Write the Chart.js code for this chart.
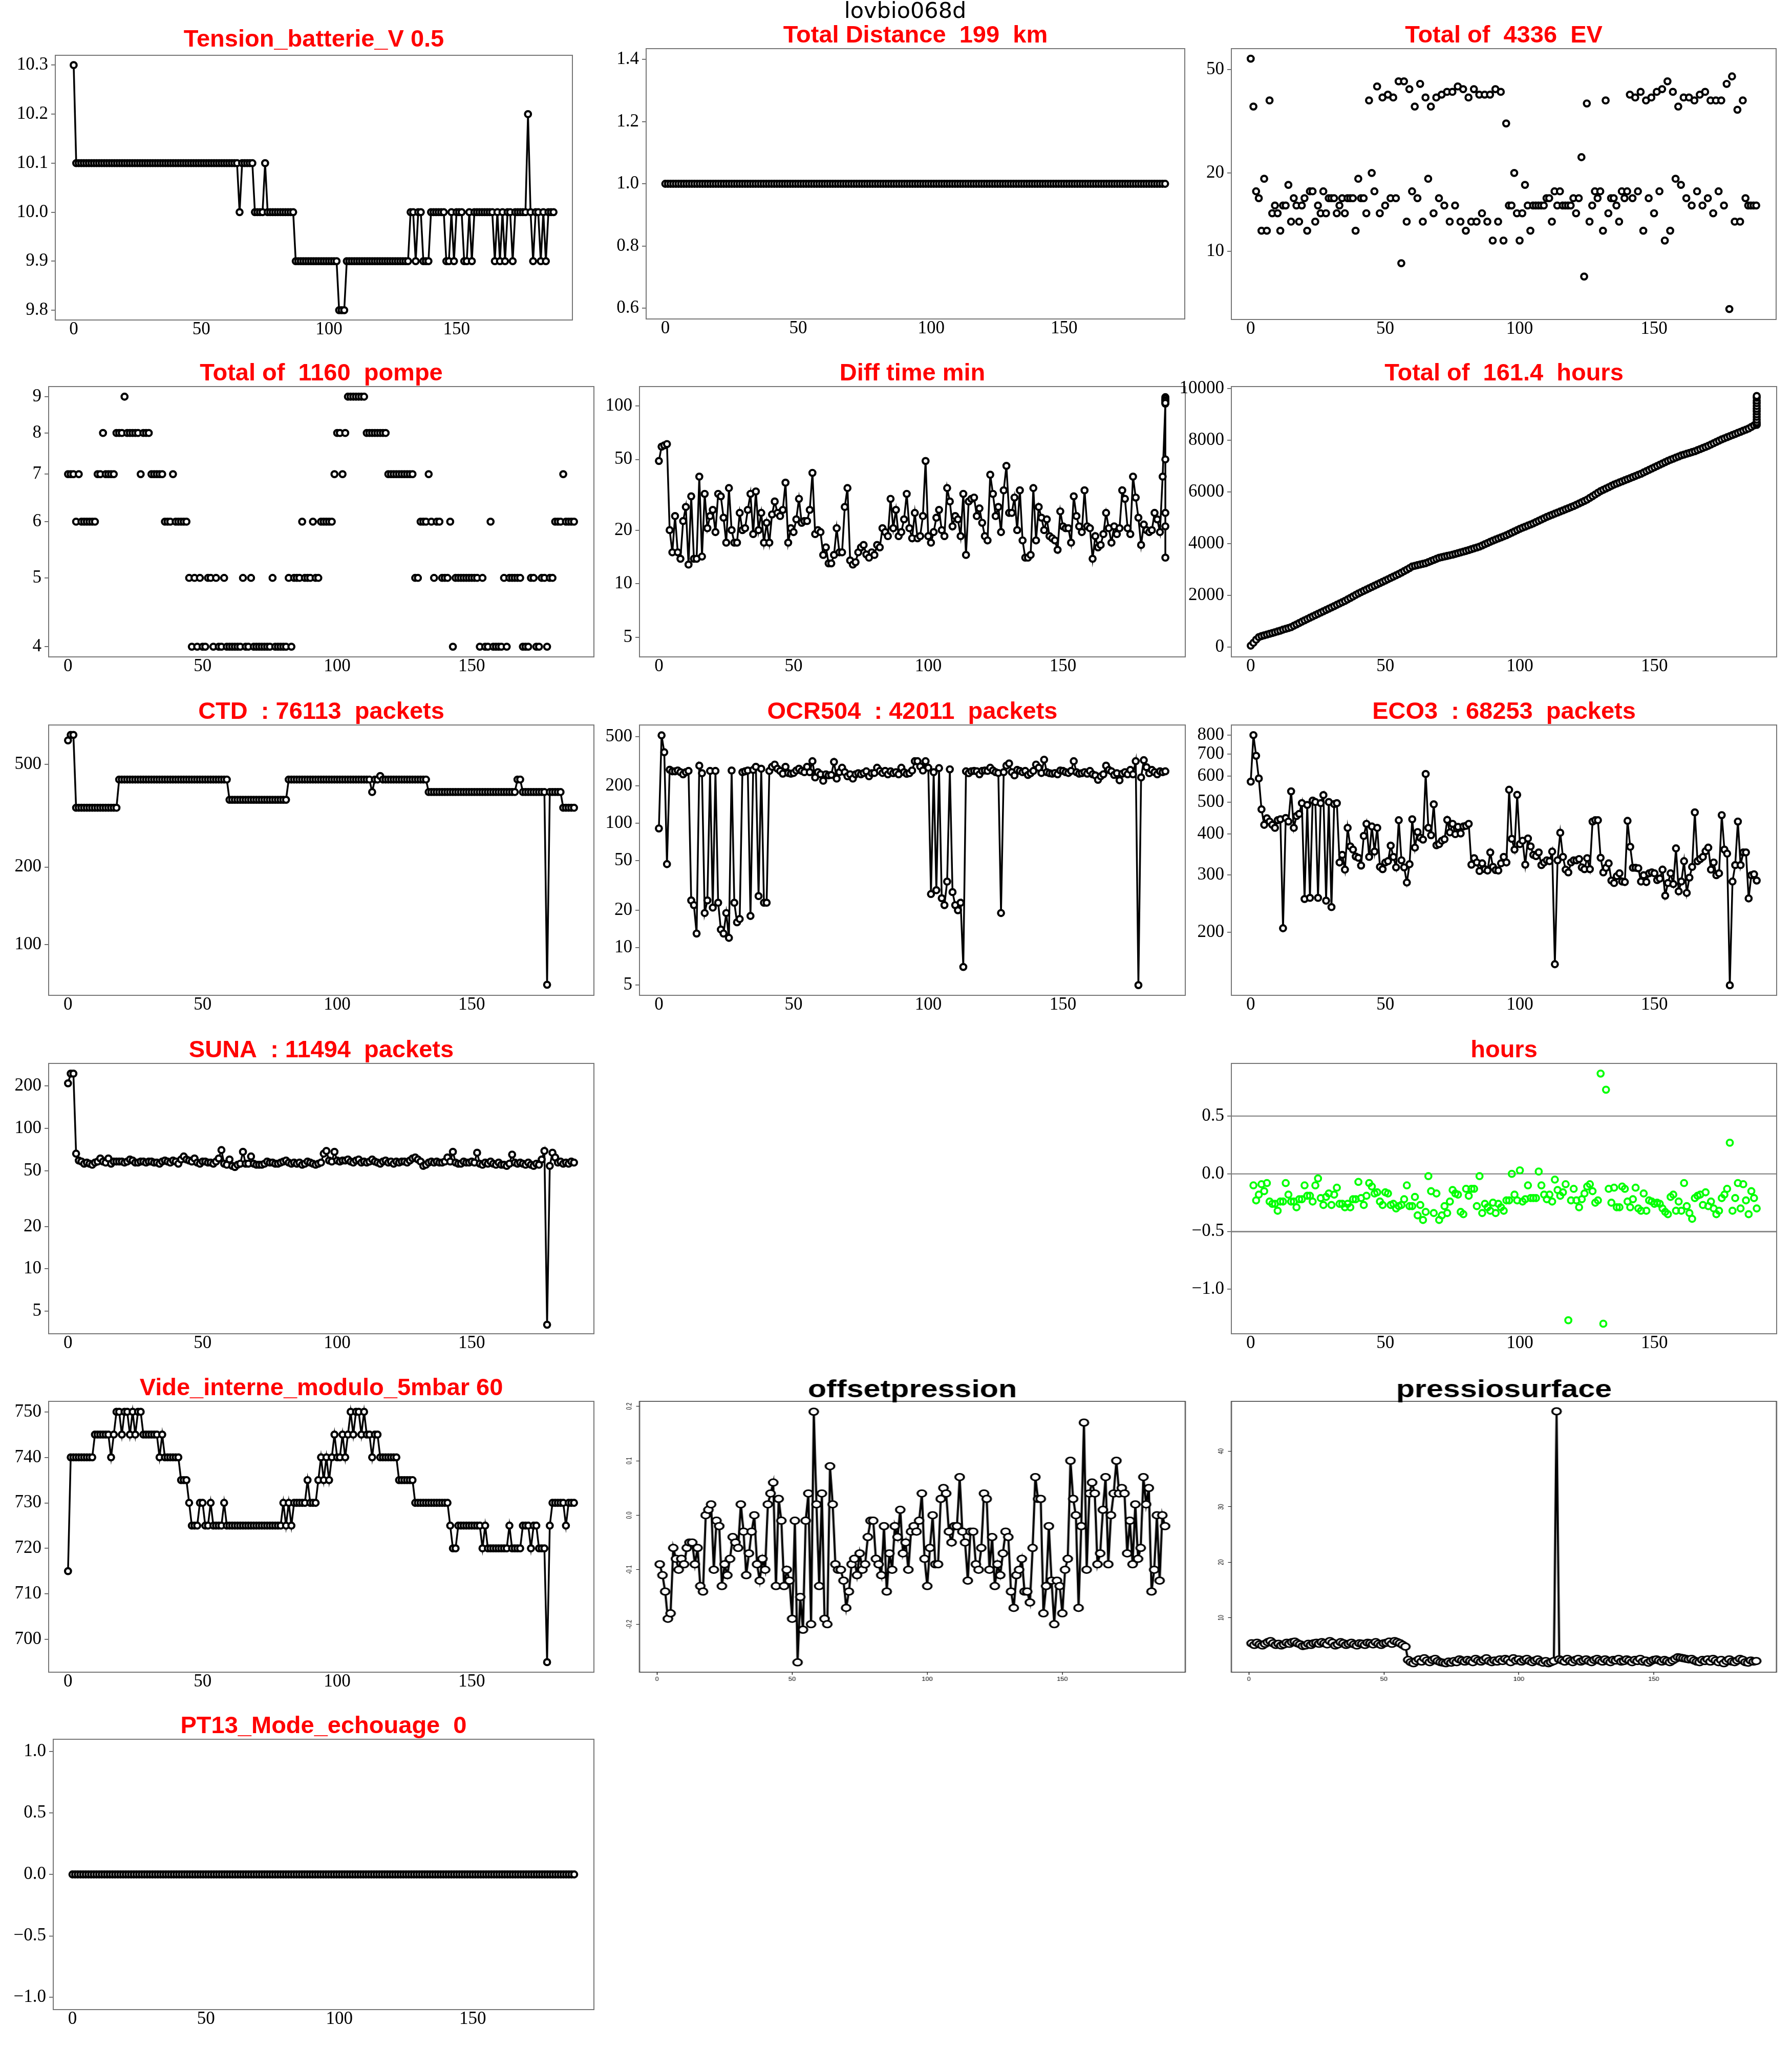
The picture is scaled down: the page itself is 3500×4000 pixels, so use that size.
<!DOCTYPE html>
<html>
<head>
<meta charset="utf-8">
<title>lovbio068d</title>
<script src="https://cdn.jsdelivr.net/npm/chart.js@4.4.0/dist/chart.umd.min.js"></script>
<style>
  body { margin: 0; background: #fff; }
  #page { position: relative; width: 3500px; height: 4000px; overflow: hidden; background: #fff; }
  #page canvas { position: absolute; }
</style>
</head>
<body>
<div id="page"></div>
<script>
// ---- data (x = cycle index) ----
const xTicks = [0, 50, 100, 150];

// step series kept as [value, count] runs
const tensionRuns = [[10.3,1],[10.1,64],[10.0,1],[10.1,5],[10.0,4],[10.1,1],[10.0,11],[9.9,17],[9.8,3],[9.9,25],
  [10.0,2],[9.9,1],[10.0,2],[9.9,3],[10.0,6],[9.9,2],[10.0,1],[9.9,1],[10.0,3],[9.9,2],[10.0,1],[9.9,1],[10.0,8],
  [9.9,1],[10.0,1],[9.9,1],[10.0,1],[9.9,1],[10.0,2],[9.9,1],[10.0,5],[10.2,1],[10.0,1],[9.9,1],[10.0,2],[9.9,1],
  [10.0,1],[9.9,1],[10.0,3]];
const distanceRuns = [[1.0,189]];
const ctdRuns = [[618,1],[649,2],[339,16],[436,41],[364,22],[436,31],[390,1],[436,2],[450,1],[436,17],[390,33],
  [436,2],[390,9],[70,1],[390,5],[339,5]];
const videRuns = [[715,1],[740,9],[745,6],[740,1],[745,1],[750,2],[745,1],[750,2],[745,1],[750,1],[745,1],[750,2],
  [745,6],[740,1],[745,1],[740,6],[735,3],[730,1],[725,3],[730,2],[725,2],[730,1],[725,4],[730,1],[725,21],[730,1],
  [725,1],[730,1],[725,1],[730,5],[735,1],[730,3],[735,1],[740,1],[735,1],[740,1],[735,1],[740,1],[745,1],[740,2],
  [745,1],[740,1],[745,1],[750,1],[745,1],[750,2],[745,1],[750,1],[745,2],[740,1],[745,2],[740,7],[735,6],[730,13],
  [725,1],[720,2],[725,9],[720,1],[725,1],[720,8],[725,1],[720,4],[725,3],[720,1],[725,2],[720,3],[695,1],[725,1],
  [730,5],[725,1],[730,3]];
const pt13Runs = [[0,189]];

const evValues = [55,36,17,16,12,19,12,38,14,15, 14,12,15,15,18,13,16,15,13,15, 16,12,17,17,13,15,14,17,14,16,
  16,16,14,15,16,14,16,16,16,12, 19,16,16,14,38,20,17,43,14,39, 15,40,16,39,16,45,9,45,13,42,
  17,36,16,44,13,39,19,36,14,39, 16,40,15,41,13,41,15,43,13,42, 12,39,13,42,13,40,14,40,13,40,
  11,42,13,41,11,31,15,15,20,14, 11,14,18,15,12,15,15,15,15,15, 16,16,13,17,15,17,15,15,15,15,
  16,14,16,23,8,37,13,15,17,16, 17,12,38,14,16,16,15,13,17,16, 17,40,16,39,17,41,12,38,16,39,
  14,41,17,42,11,45,12,41,19,36, 18,39,16,39,15,38,17,40,15,41, 16,38,14,38,17,38,15,44,6,47,
  13,35,13,38,16,15,15,15,15];

const pompeValues = [7,7,7,6,7,6,6,6,6,6, 6,7,7,8,7,7,7,7,8,8, 8,9,8,8,8,8,8,7,8,8, 8,7,7,7,7,7,6,6,6,7,
  6,6,6,6,6,5,4,5,4,5, 4,4,5,5,4,5,4,4,5,4, 4,4,4,4,4,5,4,4,5,4, 4,4,4,4,4,4,5,4,4,4,
  4,4,5,4,5,5,5,6,5,5, 5,6,5,5,6,6,6,6,6,7, 8,8,7,8,9,9,9,9,9,9, 9,8,8,8,8,8,8,8,8,7,
  7,7,7,7,7,7,7,7,7,5, 5,6,6,6,7,6,5,6,6,5, 5,5,6,4,5,5,5,5,5,5, 5,5,5,4,5,4,4,6,4,4,
  4,4,5,4,5,5,5,5,5,4, 4,4,5,5,4,4,5,5,4,5, 5,6,6,6,7,6,6,6,6];

const diffValues = [49,59,60,61,20,15,24,15,13.8,22.5, 27,12.8,31,13.8,13.8,40,14.2,32,20.5,24,
  26,19.5,32,31,23.5,17,34.5,20,17,17, 25,20,20.5,26,32,19,33,20,25,17, 22,17,24.5,29,25,24,26,37,17,20.5,
  19.5,23,30,22,22.5,22.5,26,42,19,20, 19.5,14.5,16,13,13,14.5,20.5,15,15,27, 34.5,13.5,12.8,13.2,15,16,16.5,14.6,14,15,
  14.5,16.5,16,20.5,19.5,18.5,30,20.5,26,18.5, 19.5,23,32,20.5,18,25,18,18.5,24,49, 18.5,17,19.5,23.5,26,20,18.5,34.5,29,21,
  24,23,18.5,32,14.5,29,30,30.5,24,26.5, 22,18.5,17.5,41,32,24,27,19.5,33.5,46, 25,25,30.5,20,33.5,17.5,14,14,14.5,34.5,
  17.5,27,23.5,20,23,18.5,18,17.5,15.5,25.5, 21,20.5,20.5,17,31,24,21,19.5,33.5,21, 20.5,13.8,18.5,16,16.5,19,25,20.5,17,21,
  19,20.5,33.5,30,20.5,19,40,30.5,23.5,16.5, 21.5,20,19.5,20,25,23,19.5,40];
const diffTail = [103,105,108,112,110,107,104,50,25,21,14];   // all logged at the last cycle

const cumValues = [60,170,290,390,430,460,490,520,550,580, 610,640,680,710,740,775,828,881,934,987,
  1040,1090,1140,1190,1240,1290,1340,1390,1440,1490, 1540,1590,1640,1690,1740,1790,1848,1906,1964,2022,
  2080,2130,2180,2230,2280,2330,2380,2430,2480,2530, 2580,2630,2680,2730,2780,2830,2887,2943,3000,3060,
  3125,3150,3175,3200,3225,3250,3292,3334,3376,3418, 3460,3484,3508,3532,3556,3580,3609,3638,3667,3696,
  3725,3758,3791,3824,3857,3890,3937,3984,4031,4078, 4125,4166,4207,4248,4289,4330,4380,4430,4480,4530,
  4580,4622,4664,4706,4748,4790,4840,4890,4940,4990, 5040,5082,5124,5166,5208,5250,5292,5334,5376,5418,
  5460,5510,5560,5610,5660,5710,5776,5842,5908,5974, 6040,6090,6140,6190,6240,6290,6332,6374,6416,6458,
  6500,6542,6584,6626,6668,6710,6760,6810,6860,6910, 6960,7010,7060,7110,7160,7210,7252,7294,7336,7378,
  7420,7452,7484,7516,7548,7580,7622,7664,7706,7748, 7790,7840,7890,7940,7990,8040,8082,8124,8166,8208,
  8250,8292,8334,8376,8418,8460,8520,8580];
const cumTail = [8600,8620,8650,8700,8800,8910,9010,9120,9220,9330,9440,9540,9650,9720];

const ocrValues = [91,510,373,47,270,262,262,266,258,248, 258,264,24,22,13,291,253,19,24,264,
  21,264,23,14,13,19,12,266,23,16, 17,258,262,266,18,269,285,26,275,23, 23,264,285,297,275,264,251,285,254,251,
  254,266,275,264,258,285,258,316,234,258, 248,220,248,243,245,312,229,258,280,258, 239,248,229,248,253,248,254,262,239,253,
  254,280,264,254,264,248,262,253,258,248, 280,258,250,253,266,316,316,287,266,316, 280,27,258,29,278,25,22,34,272,28,
  22,20,23,7,262,253,262,264,262,248, 264,266,264,280,266,258,254,19,258,291, 303,258,243,269,264,258,264,245,253,264,
  297,280,254,325,258,253,251,254,248,266, 264,258,254,264,316,258,251,253,258,251, 264,248,243,224,239,248,291,269,262,245,
  253,222,251,258,248,269,248,316,5,234, 322,283,253,269,258,248,262,258,262];

const eco3Values = [577,800,692,590,475,426,446,436,426,417, 440,443,206,447,436,539,417,453,460,496,
  253,490,255,505,500,255,496,525,250,500, 239,493,496,327,345,311,417,366,358,341, 338,320,394,429,340,421,353,417,317,312,
  327,330,368,340,316,440,332,316,284,323, 443,363,405,389,384,609,417,396,492,369, 372,381,385,441,404,429,399,420,401,421,
  423,429,322,337,327,308,325,312,309,351, 317,310,309,325,340,327,545,386,358,526, 372,381,322,387,366,345,342,351,321,327,
  332,330,353,160,332,403,340,311,305,327, 332,332,335,316,312,337,312,436,440,440, 338,305,315,325,288,283,297,303,286,285,
  438,365,315,315,314,286,299,285,303,305, 303,289,292,311,259,283,303,281,361,267, 286,330,264,294,317,465,330,335,340,354,
  363,311,327,299,303,456,358,348,138,286, 321,436,321,351,351,254,299,301,288];

const sunaValues = [209,245,245,66,59,58,56,57,56,55, 57,58,61,58,57,61,56,58,58,58, 58,57,58,60,59,57,57,58,58,57,
  58,58,57,57,56,58,59,58,57,59, 58,56,60,63,60,59,58,61,57,56, 58,58,57,57,56,58,61,70,56,55,
  60,54,53,55,56,68,56,56,63,56, 55,55,55,56,58,57,57,56,56,57, 58,59,57,56,57,56,57,55,56,58,
  57,56,55,56,57,66,69,59,58,68, 59,58,59,59,60,58,57,59,60,57, 58,57,58,60,58,57,56,58,59,57,
  58,56,58,57,58,58,57,59,61,62, 60,58,54,55,57,58,57,58,57,57, 58,62,58,68,57,56,56,58,57,57,
  58,57,67,56,55,57,56,58,56,55, 57,55,55,54,56,65,57,56,57,56, 55,57,55,54,56,55,60,69,4,54,
  67,62,57,58,56,57,56,58,57];

// these three start at cycle 1
const hoursValues = [-0.10,-0.23,-0.18,-0.09,-0.15,-0.08,-0.24,-0.26,-0.26,-0.32, -0.24,-0.24,-0.08,-0.18,-0.24,-0.24,-0.29,-0.22,-0.22,-0.10,
  -0.19,-0.19,-0.24,-0.10,-0.04,-0.21,-0.27,-0.20,-0.17,-0.27, -0.18,-0.12,-0.26,-0.26,-0.29,-0.26,-0.29,-0.22,-0.22,-0.07,
  -0.21,-0.27,-0.19,-0.08,-0.11,-0.17,-0.16,-0.24,-0.27,-0.16, -0.17,-0.27,-0.26,-0.30,-0.28,-0.27,-0.22,-0.10,-0.28,-0.28,
  -0.20,-0.36,-0.27,-0.40,-0.33,-0.02,-0.15,-0.34,-0.17,-0.40, -0.36,-0.28,-0.34,-0.24,-0.14,-0.17,-0.18,-0.33,-0.35,-0.13,
  -0.19,-0.13,-0.13,-0.28,-0.02,-0.34,-0.26,-0.29,-0.32,-0.25, -0.34,-0.26,-0.29,-0.32,-0.23,-0.23,0.00,-0.18,-0.23,0.03,
  -0.24,-0.22,-0.10,-0.21,-0.21,-0.21,0.02,-0.10,-0.18,-0.22, -0.18,-0.24,-0.05,-0.14,-0.19,-0.16,-0.09,-1.27,-0.23,-0.13,
  -0.23,-0.29,-0.22,-0.17,-0.11,-0.09,-0.15,-0.25,-0.23,0.87, -1.30,0.73,-0.13,-0.25,-0.12,-0.29,-0.29,-0.11,-0.13,-0.24,
  -0.29,-0.22,-0.12,-0.30,-0.32,-0.17,-0.32,-0.23,-0.24,-0.26, -0.25,-0.26,-0.30,-0.33,-0.35,-0.20,-0.18,-0.32,-0.24,-0.32,
  -0.08,-0.28,-0.34,-0.39,-0.21,-0.19,-0.18,-0.27,-0.16,-0.28, -0.24,-0.30,-0.35,-0.32,-0.21,-0.18,-0.13,0.27,-0.32,-0.21,
  -0.08,-0.30,-0.09,-0.23,-0.35,-0.15,-0.21,-0.30];

const offsetValues = [-0.09,-0.11,-0.14,-0.19,-0.18,-0.06,-0.08,-0.10,-0.08,-0.09, -0.06,-0.05,-0.05,-0.09,-0.06,-0.13,-0.14,0.00,0.01,0.02,
  -0.10,-0.01,-0.02,-0.13,-0.09,-0.11,-0.08,-0.04,-0.05,-0.06, 0.02,-0.03,-0.11,-0.07,-0.03,0.00,-0.09,-0.12,-0.08,-0.10,
  0.02,0.04,0.06,-0.13,0.03,-0.01,-0.13,-0.10,-0.12,-0.19, -0.01,-0.27,-0.15,-0.21,-0.01,0.04,-0.20,0.19,0.02,-0.13,
  0.04,-0.19,-0.20,0.09,0.02,-0.09,-0.10,-0.10,-0.12,-0.17, -0.14,-0.09,-0.08,-0.11,-0.07,-0.10,-0.09,-0.04,-0.01,-0.01,
  -0.08,-0.09,-0.11,-0.02,-0.14,-0.07,-0.10,-0.02,-0.04,0.01, -0.07,-0.05,-0.10,-0.03,-0.02,-0.03,-0.01,0.04,-0.08,-0.13,
  -0.06,0.00,-0.09,-0.09,0.03,0.05,0.04,-0.03,-0.05,-0.02, -0.02,0.07,-0.03,-0.05,-0.12,-0.03,-0.03,-0.09,-0.10,-0.06,
  0.04,0.03,-0.10,-0.04,-0.13,-0.09,-0.11,-0.07,-0.03,-0.04, -0.14,-0.17,-0.11,-0.10,-0.08,-0.14,-0.14,-0.16,-0.06,0.07,
  0.03,0.03,-0.18,-0.13,-0.02,-0.12,-0.20,-0.12,-0.13,-0.18, -0.10,-0.08,0.10,0.03,0.00,-0.17,-0.02,0.17,-0.10,0.04,
  0.06,0.04,-0.09,-0.07,0.01,0.07,-0.09,0.00,0.04,0.10, 0.04,0.05,0.04,-0.07,-0.01,-0.09,0.02,-0.08,-0.06,0.07,
  0.02,0.05,-0.14,-0.10,0.00,-0.12,0.00,-0.02];

const pressioValues = [5.4,5.1,5.5,5.2,5.0,5.3,5.6,5.8,5.4,5.1, 5.3,5.0,5.2,5.5,5.3,5.6,5.7,5.4,5.2,4.9,
  5.0,5.3,5.1,5.4,5.5,5.3,5.6,5.4,5.2,5.8, 5.5,5.0,5.2,5.6,5.4,5.1,5.3,5.5,5.2,5.0,
  5.4,5.3,5.1,5.5,5.4,5.2,5.6,5.3,5.1,5.4, 5.5,5.7,5.3,5.8,5.6,5.4,5.1,4.8,
  2.4,2.0,1.8,2.2,2.5,2.1,2.7,2.3,2.0,2.4,2.6,2.2,
  2.0,1.9,1.8,2.1,1.9,2.2,2.0,2.5,2.3,2.1, 2.4,2.2,2.0,2.6,2.3,2.1,2.4,2.7,2.2,2.0,
  2.3,2.1,2.5,2.2,2.6,2.4,2.0,2.7,2.3,2.5, 2.1,2.4,2.6,2.2,2.0,2.3,2.5,2.1,1.9,2.2,
  1.8,2.0,2.2,47.2,2.5,2.3,2.1,2.6,2.2,2.0,
  2.4,2.6,2.1,2.3,2.5,2.2,2.0,2.4,2.6,2.3, 2.1,2.5,2.2,2.0,2.4,2.3,2.6,2.1,2.2,2.5,
  2.3,2.0,2.4,2.2,2.6,2.1,2.3,1.9,2.2,2.4, 2.5,2.3,2.1,2.4,2.2,2.0,2.3,2.6,2.9,2.8,
  2.7,2.6,2.5,2.6,2.3,2.1,2.0,2.4,2.2,2.5, 2.1,2.6,2.3,2.0,2.4,1.8,2.2,2.5,2.1,2.0,
  2.3,2.6,2.4,2.0,1.9,2.3,2.1,2.2];

// ---- helpers ----
function expandRuns(runs) {
    const out = [];
    runs.forEach(([v, n]) => { for (let k = 0; k < n; k++) out.push(v); });
    return out;
}
function toPoints(values, x0) {
    return values.map((v, k) => ({ x: x0 + k, y: v }));
}
function withTail(values, tail) {
    const pts = toPoints(values, 0);
    const last = values.length;
    tail.forEach(v => pts.push({ x: last, y: v }));
    return pts;
}
const fmt1 = v => v.toFixed(1).replace('-', '\u2212');
const fmtInt = v => String(Math.round(v));

const page = document.getElementById('page');

Chart.defaults.animation = false;
Chart.defaults.responsive = false;
Chart.defaults.events = [];
Chart.defaults.plugins.legend.display = false;
Chart.defaults.plugins.tooltip.enabled = false;

// title + frame drawn around each plot area
function decor(p, boxColor, boxWidth) {
    return {
        id: 'decor',
        afterDraw(chart) {
            const { ctx, chartArea: a } = chart;
            ctx.save();
            ctx.strokeStyle = boxColor;
            ctx.lineWidth = boxWidth;
            ctx.strokeRect(a.left, a.top, a.right - a.left, a.bottom - a.top);
            // title, optionally squeezed horizontally
            const sq = p.titleSqueeze || 1;
            ctx.save();
            ctx.translate((a.left + a.right) / 2, a.top - (p.titleGap || 12.5));
            ctx.scale(sq, 1);
            ctx.fillStyle = p.titleColor || '#ff0000';
            ctx.font = p.titleFont || 'bold 47px "Liberation Sans"';
            ctx.textAlign = 'center';
            ctx.textBaseline = 'alphabetic';
            ctx.fillText(p.title, 0, 0);
            ctx.restore();
            if (p.rLabels) {
                const ys = chart.scales.y;
                ctx.font = '10px "Liberation Sans"';
                ctx.fillStyle = '#000';
                ctx.textAlign = 'center';
                ctx.textBaseline = 'middle';
                p.yTicks.forEach((v, k) => {
                    ctx.save();
                    ctx.translate(a.left - 15, ys.getPixelForValue(v));
                    ctx.rotate(-Math.PI / 2);
                    ctx.fillText(p.rLabels[k], 0, 0);
                    ctx.restore();
                });
            }
            ctx.restore();
        }
    };
}

function dataset(p) {
    const col = p.color || '#000';
    return {
        data: p.points,
        showLine: p.line !== false,
        borderColor: col,
        borderWidth: p.lineWidth || 3.5,
        tension: 0,
        fill: false,
        pointStyle: 'circle',
        pointRadius: p.radius || 5.8,
        pointHoverRadius: p.radius || 5.8,
        pointBorderWidth: p.pointWidth || 4.2,
        pointBorderColor: col,
        pointBackgroundColor: p.hollow ? 'rgba(0,0,0,0)' : '#fff'
    };
}

// matplotlib-like panels
function mplPanel(p) {
    const padL = 110, padT = 110, padR = 20, padB = 60;
    const w = p.box[2] - p.box[0], h = p.box[3] - p.box[1];
    const canvas = document.createElement('canvas');
    canvas.width = Math.round(w + padL + padR);
    canvas.height = Math.round(h + padT + padB);
    canvas.style.left = (p.box[0] - padL) + 'px';
    canvas.style.top = (p.box[1] - padT) + 'px';
    page.appendChild(canvas);

    const tickFont = { family: 'Liberation Serif', size: 35, lineHeight: 1 };
    new Chart(canvas, {
        type: 'line',
        data: { datasets: [dataset(p)] },
        options: {
            devicePixelRatio: 1,
            layout: { padding: { left: 0, top: padT, right: padR, bottom: 0 } },
            scales: {
                x: {
                    type: 'linear', min: -7.2, max: 195.4,
                    afterBuildTicks: s => { s.ticks = xTicks.map(v => ({ value: v })); },
                    afterFit: s => { s.height = padB; },
                    grid: { display: false, drawTicks: false },
                    border: { display: false },
                    ticks: { font: tickFont, color: '#000', padding: 1, maxRotation: 0, autoSkip: false, callback: v => String(v) }
                },
                y: {
                    type: p.yType || 'linear', min: p.yMin, max: p.yMax, bounds: 'data',
                    afterBuildTicks: s => { s.ticks = p.yTicks.map(v => ({ value: v })); },
                    afterFit: s => { s.width = padL; },
                    grid: {
                        drawOnChartArea: !!p.hlines,
                        color: c => {
                            if (!p.hlines) return '#444';
                            const v = c.tick ? c.tick.value : 0;
                            if (v === -1) return 'rgba(0,0,0,0)';
                            return v === -0.5 ? '#8c8c8c' : '#555';
                        },
                        lineWidth: c => (c.tick && c.tick.value === -0.5 ? 3 : 1.5),
                        drawTicks: true, tickLength: 8, tickWidth: 1.5, tickColor: '#444'
                    },
                    border: { display: false },
                    ticks: { font: tickFont, color: '#000', padding: 6, autoSkip: false, callback: v => p.fmt(v) }
                }
            }
        },
        plugins: [decor(p, '#777', 2)]
    });
}

// R-style panels (stretched horizontally like the reference raster)
const R_SX = 1.3;
function rPanel(p) {
    const padL = 50, padT = 100, padR = 10, padB = 40;
    const w = (p.box[2] - p.box[0]) / R_SX, h = p.box[3] - p.box[1];
    const canvas = document.createElement('canvas');
    canvas.width = Math.round(w + padL + padR);
    canvas.height = Math.round(h + padT + padB);
    canvas.style.left = (p.box[0] - padL * R_SX) + 'px';
    canvas.style.top = (p.box[1] - padT) + 'px';
    canvas.style.transform = 'scaleX(' + R_SX + ')';
    canvas.style.transformOrigin = '0 0';
    page.appendChild(canvas);

    new Chart(canvas, {
        type: 'line',
        data: { datasets: [dataset(p)] },
        options: {
            devicePixelRatio: 1,
            layout: { padding: { left: 0, top: padT, right: padR, bottom: 0 } },
            scales: {
                x: {
                    type: 'linear', min: -6.5, max: 195.5,
                    afterBuildTicks: s => { s.ticks = xTicks.map(v => ({ value: v })); },
                    afterFit: s => { s.height = padB; },
                    grid: { drawOnChartArea: false, drawTicks: true, tickLength: 5, tickWidth: 1, tickColor: '#000' },
                    border: { display: false },
                    ticks: { font: { family: 'Liberation Sans', size: 10 }, color: '#000', padding: 3, maxRotation: 0, autoSkip: false, callback: v => String(v) }
                },
                y: {
                    type: 'linear', min: p.yMin, max: p.yMax,
                    afterBuildTicks: s => { s.ticks = p.yTicks.map(v => ({ value: v })); },
                    afterFit: s => { s.width = padL; },
                    grid: { drawOnChartArea: false, drawTicks: true, tickLength: 5, tickWidth: 1, tickColor: '#000' },
                    border: { display: false },
                    ticks: { display: false }
                }
            }
        },
        plugins: [decor(p, '#333', 1.5)]
    });
}

const panels = [
    { title: 'Tension_batterie_V 0.5', titleGap: 17.5, box: [108, 107.5, 1118, 624.5],
      points: toPoints(expandRuns(tensionRuns), 0), yMin: 9.78, yMax: 10.32,
      yTicks: [9.8, 9.9, 10.0, 10.1, 10.2, 10.3], fmt: fmt1 },
    { title: 'Total Distance  199  km', box: [1262, 95, 2314, 623],
      points: toPoints(expandRuns(distanceRuns), 0), yMin: 0.565, yMax: 1.435,
      yTicks: [0.6, 0.8, 1.0, 1.2, 1.4], fmt: fmt1 },
    { title: 'Total of  4336  EV', box: [2405, 94.5, 3469, 623],
      points: toPoints(evValues, 0), line: false, yType: 'logarithmic', yMin: 5.47, yMax: 60.1,
      yTicks: [10, 20, 50], fmt: fmtInt },
    { title: 'Total of  1160  pompe', box: [95, 755, 1160, 1283],
      points: toPoints(pompeValues, 0), line: false, yType: 'logarithmic', yMin: 3.87, yMax: 9.30,
      yTicks: [4, 5, 6, 7, 8, 9], fmt: fmtInt },
    { title: 'Diff time min', box: [1249, 755, 2315, 1283],
      points: withTail(diffValues, diffTail), yType: 'logarithmic', yMin: 3.87, yMax: 128.5,
      yTicks: [5, 10, 20, 50, 100], fmt: fmtInt },
    { title: 'Total of  161.4  hours', box: [2405, 755, 3470, 1283],
      points: withTail(cumValues, cumTail), yMin: -375, yMax: 10083,
      yTicks: [0, 2000, 4000, 6000, 8000, 10000], fmt: fmtInt },
    { title: 'CTD  : 76113  packets', box: [95, 1416, 1160, 1944],
      points: toPoints(expandRuns(ctdRuns), 0), yType: 'logarithmic', yMin: 63.7, yMax: 709,
      yTicks: [100, 200, 500], fmt: fmtInt },
    { title: 'OCR504  : 42011  packets', box: [1249, 1416, 2315, 1944],
      points: toPoints(ocrValues, 0), yType: 'logarithmic', yMin: 4.14, yMax: 618,
      yTicks: [5, 10, 20, 50, 100, 200, 500], fmt: fmtInt },
    { title: 'ECO3  : 68253  packets', box: [2405, 1416, 3470, 1944],
      points: toPoints(eco3Values, 0), yType: 'logarithmic', yMin: 128.6, yMax: 859,
      yTicks: [200, 300, 400, 500, 600, 700, 800], fmt: fmtInt },
    { title: 'SUNA  : 11494  packets', box: [95, 2077, 1160, 2604.5],
      points: toPoints(sunaValues, 0), yType: 'logarithmic', yMin: 3.45, yMax: 289.5,
      yTicks: [5, 10, 20, 50, 100, 200], fmt: fmtInt },
    { title: 'hours', box: [2405, 2076.5, 3470, 2604.7],
      points: toPoints(hoursValues, 1), line: false, color: '#00ff00', hollow: true, hlines: true,
      radius: 6, pointWidth: 3.8,
      yMin: -1.387, yMax: 0.958, yTicks: [-1.0, -0.5, 0.0, 0.5], fmt: fmt1 },
    { title: 'Vide_interne_modulo_5mbar 60', box: [95, 2736.5, 1160, 3265],
      points: toPoints(expandRuns(videRuns), 0), yMin: 692.8, yMax: 752.3,
      yTicks: [700, 710, 720, 730, 740, 750], fmt: fmtInt },
    { title: 'PT13_Mode_echouage  0', box: [104, 3397, 1160, 3925],
      points: toPoints(expandRuns(pt13Runs), 0), yMin: -1.1, yMax: 1.1,
      yTicks: [-1.0, -0.5, 0.0, 0.5, 1.0], fmt: fmt1 }
];

const rPanels = [
    { title: 'offsetpression', titleColor: '#000', titleFont: 'bold 49px "Liberation Sans"', titleSqueeze: 0.93, titleGap: 8,
      box: [1249, 2737, 2315, 3265.6], points: toPoints(offsetValues, 1),
      yMin: -0.288, yMax: 0.209, yTicks: [-0.2, -0.1, 0.0, 0.1, 0.2],
      rLabels: ['-0.2', '-0.1', '0.0', '0.1', '0.2'], radius: 6.5, pointWidth: 3, lineWidth: 3.2 },
    { title: 'pressiosurface', titleColor: '#000', titleFont: 'bold 49px "Liberation Sans"', titleSqueeze: 0.93, titleGap: 8,
      box: [2405, 2737, 3470, 3265.6], points: toPoints(pressioValues, 1),
      yMin: 0.19, yMax: 49.0, yTicks: [10, 20, 30, 40],
      rLabels: ['10', '20', '30', '40'], radius: 6.5, pointWidth: 3, lineWidth: 3.2 }
];

// figure title
const sup = document.createElement('canvas');
sup.width = 3500; sup.height = 60;
sup.style.left = '0px'; sup.style.top = '0px';
page.appendChild(sup);
const sctx = sup.getContext('2d');
sctx.font = '43px "DejaVu Sans"';
sctx.fillStyle = '#000';
sctx.textAlign = 'center';
sctx.fillText('lovbio068d', 1768, 35);

panels.forEach(mplPanel);
rPanels.forEach(rPanel);
</script>
</body>
</html>
